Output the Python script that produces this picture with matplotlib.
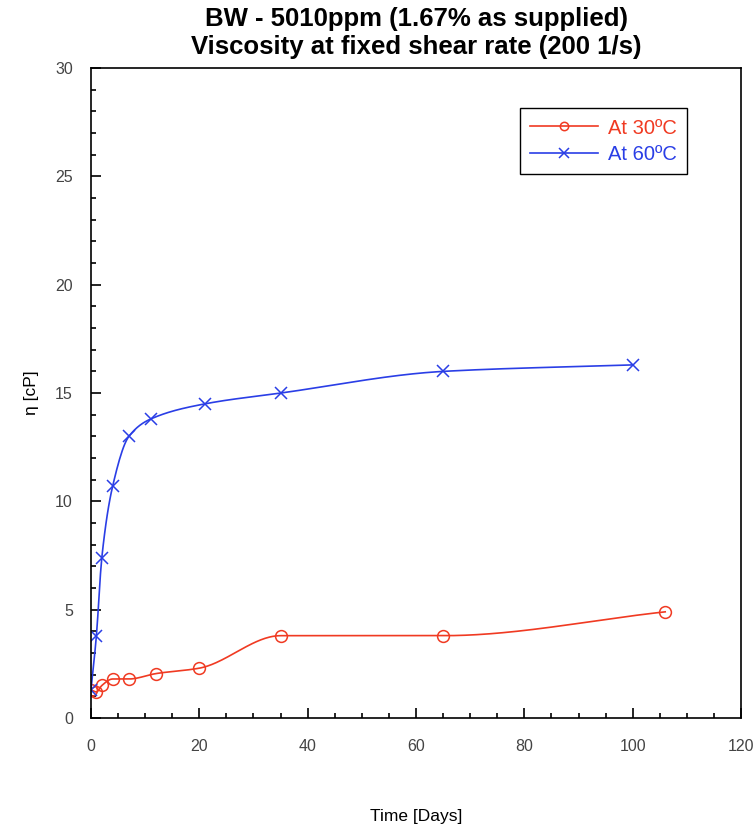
import numpy as np
import matplotlib
matplotlib.use('Agg')
import matplotlib.pyplot as plt
from matplotlib.ticker import MultipleLocator

# Данные
days_30 = [0, 1, 2, 4, 7, 12, 20, 35, 65, 106]
visc_30 = [1.3, 1.2, 1.5, 1.8, 1.8, 2.05, 2.3, 3.8, 3.8, 4.9]

days_60 = [0, 1, 2, 4, 7, 11, 21, 35, 65, 100]
visc_60 = [1.3, 3.8, 7.4, 10.7, 13.0, 13.8, 14.5, 15.0, 16.0, 16.3]

x_ticks = [0, 20, 40, 60, 80, 100, 120]
y_ticks = [0, 5, 10, 15, 20, 25, 30]


def smooth(x, y, n=400):
    # монотонная кубическая интерполяция (Fritsch-Carlson) для гладкой линии
    x = np.asarray(x, float)
    y = np.asarray(y, float)
    h = np.diff(x)
    d = np.diff(y) / h
    m = np.zeros_like(y)
    m[0], m[-1] = d[0], d[-1]
    for k in range(1, len(x) - 1):
        if d[k - 1] * d[k] > 0:
            w1 = 2 * h[k] + h[k - 1]
            w2 = h[k] + 2 * h[k - 1]
            m[k] = (w1 + w2) / (w1 / d[k - 1] + w2 / d[k])
    xs = np.linspace(x[0], x[-1], n)
    i = np.clip(np.searchsorted(x, xs) - 1, 0, len(x) - 2)
    t = (xs - x[i]) / h[i]
    h00 = 2 * t**3 - 3 * t**2 + 1
    h10 = t**3 - 2 * t**2 + t
    h01 = -2 * t**3 + 3 * t**2
    h11 = t**3 - t**2
    ys = h00 * y[i] + h10 * h[i] * m[i] + h01 * y[i + 1] + h11 * h[i] * m[i + 1]
    return xs, ys


plt.rcParams['font.family'] = ['Liberation Sans', 'DejaVu Sans']

red = '#f03a22'
blue = '#2a3ee6'

fig = plt.figure(figsize=(7.55, 8.31), dpi=100)
ax = fig.add_axes([0.1205, 0.136, 0.8610, 0.782])

xs, ys = smooth(days_30, visc_30)
ax.plot(xs, ys, color=red, lw=1.2)
ax.plot(days_30, visc_30, 'o', color=red, mfc='none', ms=8.5, mew=1.1)
xs, ys = smooth(days_60, visc_60)
ax.plot(xs, ys, color=blue, lw=1.2)
ax.plot(days_60, visc_60, 'x', color=blue, ms=8.5, mew=1.1)

# элементы легенды
l1, = ax.plot([], [], '-o', color=red, mfc='none', ms=6, mew=1.1, lw=1.2)
l2, = ax.plot([], [], '-x', color=blue, ms=6.5, mew=1.1, lw=1.2)
leg = ax.legend([l1, l2], ['At 30ºC', 'At 60ºC'], loc='upper right',
                bbox_to_anchor=(0.917, 0.938), borderaxespad=0, fontsize=14.5,
                fancybox=False, framealpha=1, edgecolor='black',
                handlelength=3.4, handletextpad=0.5, labelspacing=0.38,
                borderpad=0.5)
leg.get_frame().set_linewidth(1.0)
leg.get_texts()[0].set_color(red)
leg.get_texts()[1].set_color(blue)

ax.set_xlim(0, 120)
ax.set_ylim(0, 30)
ax.set_xticks(x_ticks)
ax.set_yticks(y_ticks)
ax.xaxis.set_minor_locator(MultipleLocator(5))
ax.yaxis.set_minor_locator(MultipleLocator(1))
ax.tick_params(which='both', direction='in', top=False, right=False,
               labelsize=11.5, labelcolor='#444444', width=1.2)
ax.tick_params(which='major', length=7, pad=13)
ax.tick_params(axis='x', which='major', pad=15)
ax.tick_params(which='minor', length=3.5)
for s in ax.spines.values():
    s.set_linewidth(1.2)

ax.set_xlabel('Time [Days]', fontsize=12.5, labelpad=40)
ax.set_ylabel('η [cP]', fontsize=12.5, labelpad=12)
ax.set_title('BW - 5010ppm (1.67% as supplied)\nViscosity at fixed shear rate (200 1/s)',
             fontsize=18.5, fontweight='bold', pad=10, linespacing=1.22)

fig.savefig('out.png', dpi=100)
